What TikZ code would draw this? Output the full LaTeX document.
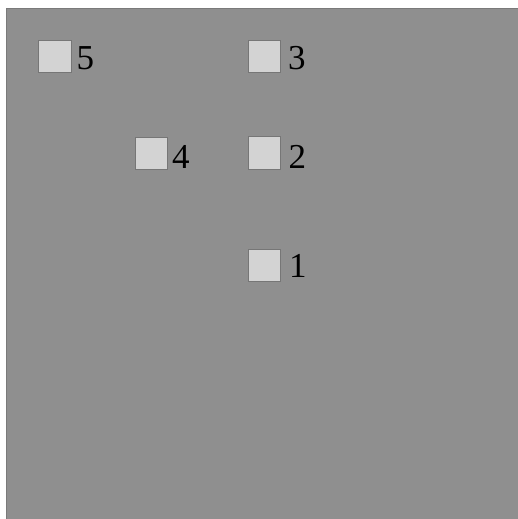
\documentclass[tikz,border=0pt]{standalone}
\usepackage{fontspec}
\setmainfont{Liberation Serif}
\usepackage{xcolor}
\definecolor{panelgray}{HTML}{8F8F8F}
\definecolor{panelline}{HTML}{7A7A7A}
\definecolor{boxfill}{HTML}{D3D3D3}
\definecolor{boxline}{HTML}{767676}
\tikzset{
  box/.style={draw=boxline, line width=1pt, fill=boxfill, minimum size=32.5pt, inner sep=0pt},
  num/.style={anchor=base west, inner sep=0pt, font=\fontsize{35}{35}\selectfont}
}
\begin{document}
\begin{tikzpicture}[x=1pt, y=-1pt]
  \useasboundingbox (0,0) rectangle (517,519);
  \draw[panelline, fill=panelgray, line width=1pt] (6.5,8.5) rectangle (518,520);
  % squares
  \node[box] (b5) at (55,56.5) {};
  \node[box] (b4) at (151.5,153.5) {};
  \node[box] (b3) at (264.5,56.5) {};
  \node[box] (b2) at (264.5,153) {};
  \node[box] (b1) at (264.5,265.5) {};
  % numbers
  \node[num] (n5) at (76.5,70) {5};
  \node[num] (n4) at (172,168) {4};
  \node[num] (n3) at (288,70) {3};
  \node[num] (n2) at (288.5,168) {2};
  \node[num] (n1) at (289,277) {1};
\end{tikzpicture}
\end{document}
